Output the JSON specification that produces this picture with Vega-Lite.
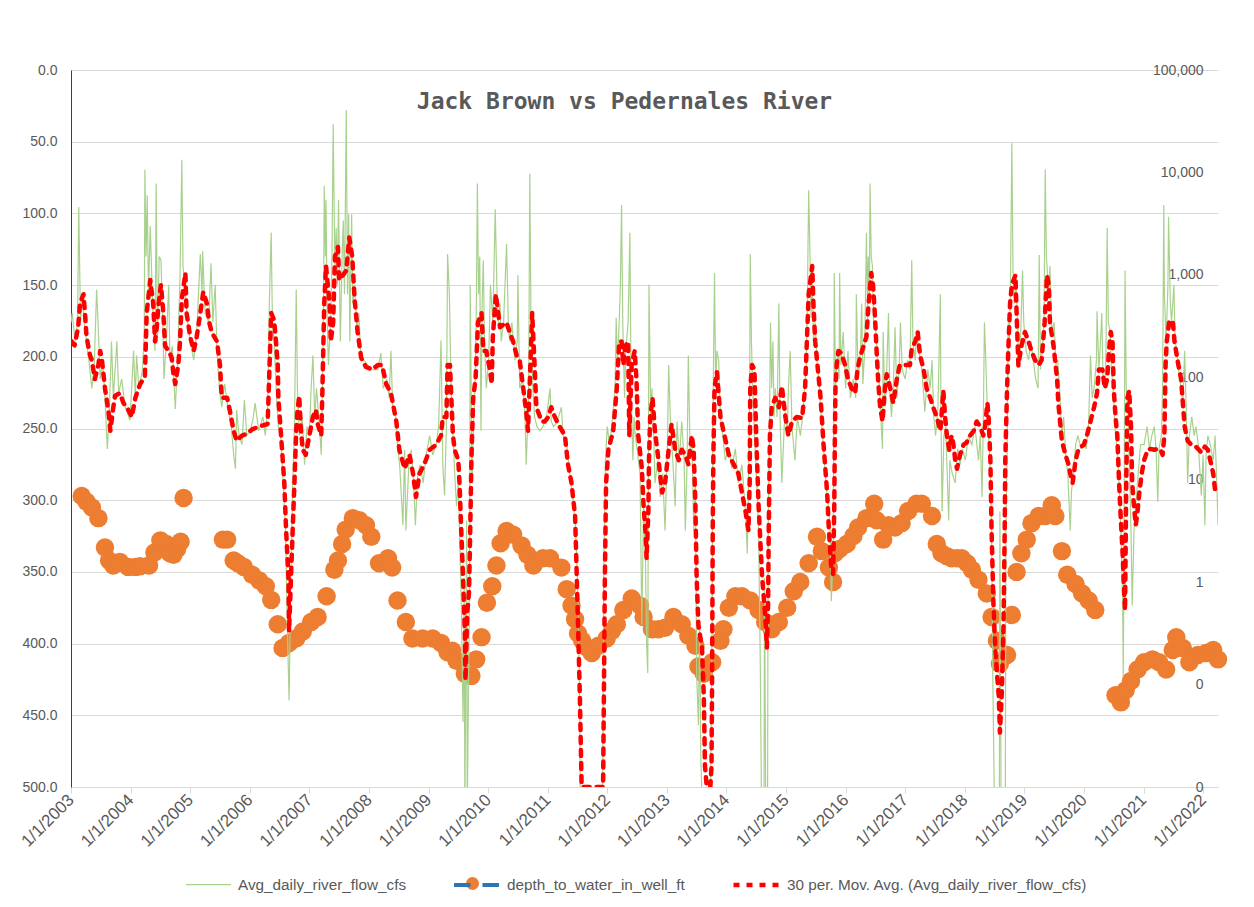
{
"$schema":"https://vega.github.io/schema/vega-lite/v6.json",
"width":1147,"height":717,
"autosize":"none",
"padding":{"left":71,"top":70,"right":36,"bottom":120},
"background":"white",
"config":{"view":{"stroke":null},"axis":{"labelFont":"Liberation Sans","labelFontSize":14,"labelColor":"#595959"},
"legend":{"labelFont":"Liberation Sans","labelColor":"#595959","padding":0}},
"title":{"text":"Jack Brown vs Pedernales River","font":"DejaVu Sans Mono","fontSize":23,"fontWeight":"bold","color":"#595959","anchor":"middle","frame":"group","baseline":"middle","offset":-31,"dy":31,"dx":-20},
"datasets":{
"flow":[
{"year":2003.00,"cfs":343},{"year":2003.02,"cfs":424},{"year":2003.07,"cfs":224},{"year":2003.11,"cfs":343},{"year":2003.13,"cfs":4600},{"year":2003.16,"cfs":343},{"year":2003.19,"cfs":647},{"year":2003.22,"cfs":343},{"year":2003.26,"cfs":224},{"year":2003.30,"cfs":147},{"year":2003.35,"cfs":78},{"year":2003.39,"cfs":132},{"year":2003.43,"cfs":720},{"year":2003.46,"cfs":277},{"year":2003.49,"cfs":96},{"year":2003.53,"cfs":147},{"year":2003.57,"cfs":63},{"year":2003.61,"cfs":20},{"year":2003.64,"cfs":41},{"year":2003.68,"cfs":224},{"year":2003.71,"cfs":63},{"year":2003.77,"cfs":224},{"year":2003.80,"cfs":70},{"year":2003.85,"cfs":96},{"year":2003.91,"cfs":51},{"year":2003.99,"cfs":38},
{"year":2004.05,"cfs":181},{"year":2004.08,"cfs":63},{"year":2004.10,"cfs":163},{"year":2004.14,"cfs":78},{"year":2004.20,"cfs":119},{"year":2004.23,"cfs":277},{"year":2004.24,"cfs":10700},{"year":2004.26,"cfs":1510},{"year":2004.28,"cfs":6000},{"year":2004.30,"cfs":647},{"year":2004.33,"cfs":2980},{"year":2004.36,"cfs":800},{"year":2004.38,"cfs":343},{"year":2004.41,"cfs":181},{"year":2004.43,"cfs":7800},{"year":2004.45,"cfs":224},{"year":2004.48,"cfs":1510},{"year":2004.51,"cfs":1390},{"year":2004.54,"cfs":343},{"year":2004.56,"cfs":96},{"year":2004.60,"cfs":224},{"year":2004.64,"cfs":800},{"year":2004.66,"cfs":147},{"year":2004.70,"cfs":201},{"year":2004.75,"cfs":49},{"year":2004.79,"cfs":147},{"year":2004.83,"cfs":990},{"year":2004.86,"cfs":13300},{"year":2004.88,"cfs":1220},{"year":2004.92,"cfs":647},{"year":2004.96,"cfs":343},
{"year":2005.00,"cfs":224},{"year":2005.06,"cfs":147},{"year":2005.11,"cfs":277},{"year":2005.17,"cfs":1600},{"year":2005.20,"cfs":647},{"year":2005.21,"cfs":1700},{"year":2005.25,"cfs":424},{"year":2005.31,"cfs":343},{"year":2005.35,"cfs":1300},{"year":2005.38,"cfs":343},{"year":2005.42,"cfs":800},{"year":2005.45,"cfs":181},{"year":2005.49,"cfs":78},{"year":2005.53,"cfs":51},{"year":2005.58,"cfs":86},{"year":2005.63,"cfs":51},{"year":2005.69,"cfs":33},{"year":2005.73,"cfs":17.5},{"year":2005.76,"cfs":12.8},{"year":2005.78,"cfs":48},{"year":2005.82,"cfs":27},{"year":2005.87,"cfs":22},{"year":2005.91,"cfs":60},{"year":2005.95,"cfs":27},
{"year":2006.01,"cfs":30},{"year":2006.06,"cfs":41},{"year":2006.09,"cfs":56},{"year":2006.15,"cfs":30},{"year":2006.22,"cfs":41},{"year":2006.26,"cfs":27},{"year":2006.30,"cfs":51},{"year":2006.33,"cfs":582},{"year":2006.36,"cfs":2590},{"year":2006.38,"cfs":343},{"year":2006.41,"cfs":224},{"year":2006.45,"cfs":63},{"year":2006.48,"cfs":33},{"year":2006.52,"cfs":27},{"year":2006.56,"cfs":9.3},{"year":2006.60,"cfs":3.2},{"year":2006.63,"cfs":0.38},{"year":2006.66,"cfs":0.07},{"year":2006.69,"cfs":1.1},{"year":2006.72,"cfs":9.3},{"year":2006.75,"cfs":33},{"year":2006.78,"cfs":720},{"year":2006.80,"cfs":78},{"year":2006.83,"cfs":27},{"year":2006.88,"cfs":41},{"year":2006.92,"cfs":14},{"year":2006.96,"cfs":33},
{"year":2007.00,"cfs":27},{"year":2007.03,"cfs":78},{"year":2007.06,"cfs":163},{"year":2007.09,"cfs":41},{"year":2007.12,"cfs":78},{"year":2007.17,"cfs":33},{"year":2007.20,"cfs":17.5},{"year":2007.22,"cfs":78},{"year":2007.24,"cfs":647},{"year":2007.25,"cfs":7400},{"year":2007.27,"cfs":1510},{"year":2007.28,"cfs":5400},{"year":2007.30,"cfs":343},{"year":2007.32,"cfs":132},{"year":2007.36,"cfs":381},{"year":2007.38,"cfs":1510},{"year":2007.40,"cfs":29500},{"year":2007.43,"cfs":990},{"year":2007.45,"cfs":2860},{"year":2007.47,"cfs":800},{"year":2007.49,"cfs":5400},{"year":2007.52,"cfs":224},{"year":2007.55,"cfs":1510},{"year":2007.57,"cfs":3400},{"year":2007.59,"cfs":647},{"year":2007.62,"cfs":40600},{"year":2007.64,"cfs":647},{"year":2007.66,"cfs":3900},{"year":2007.68,"cfs":224},{"year":2007.71,"cfs":3900},{"year":2007.73,"cfs":524},{"year":2007.76,"cfs":800},{"year":2007.80,"cfs":277},{"year":2007.83,"cfs":424},{"year":2007.86,"cfs":181},{"year":2007.91,"cfs":147},{"year":2007.98,"cfs":132},
{"year":2008.06,"cfs":119},{"year":2008.15,"cfs":119},{"year":2008.20,"cfs":172},{"year":2008.24,"cfs":78},{"year":2008.30,"cfs":96},{"year":2008.34,"cfs":63},{"year":2008.37,"cfs":181},{"year":2008.40,"cfs":48},{"year":2008.45,"cfs":41},{"year":2008.48,"cfs":22},{"year":2008.52,"cfs":12.8},{"year":2008.57,"cfs":3.6},{"year":2008.60,"cfs":19.6},{"year":2008.62,"cfs":3.2},{"year":2008.67,"cfs":14},{"year":2008.71,"cfs":19.6},{"year":2008.75,"cfs":9.3},{"year":2008.78,"cfs":3.6},{"year":2008.82,"cfs":11.5},{"year":2008.86,"cfs":14},{"year":2008.91,"cfs":9.3},{"year":2008.96,"cfs":17.5},
{"year":2009.02,"cfs":27},{"year":2009.07,"cfs":17.5},{"year":2009.13,"cfs":22},{"year":2009.17,"cfs":33},{"year":2009.21,"cfs":230},{"year":2009.24,"cfs":14},{"year":2009.27,"cfs":7},{"year":2009.30,"cfs":33},{"year":2009.32,"cfs":1600},{"year":2009.35,"cfs":647},{"year":2009.38,"cfs":78},{"year":2009.41,"cfs":27},{"year":2009.44,"cfs":11.5},{"year":2009.47,"cfs":5.5},{"year":2009.50,"cfs":9.3},{"year":2009.52,"cfs":3.2},{"year":2009.55,"cfs":0.65},{"year":2009.58,"cfs":0.043},{"year":2009.60,"cfs":1.1},{"year":2009.61,"cfs":0.005},{"year":2009.64,"cfs":4},{"year":2009.65,"cfs":0.005},{"year":2009.67,"cfs":0.078},{"year":2009.69,"cfs":1.1},{"year":2009.70,"cfs":800},{"year":2009.73,"cfs":9.3},{"year":2009.75,"cfs":27},{"year":2009.78,"cfs":78},{"year":2009.80,"cfs":343},{"year":2009.82,"cfs":7800},{"year":2009.84,"cfs":647},{"year":2009.86,"cfs":1510},{"year":2009.88,"cfs":30},{"year":2009.90,"cfs":524},{"year":2009.92,"cfs":1390},{"year":2009.94,"cfs":224},{"year":2009.97,"cfs":78},
{"year":2010.01,"cfs":147},{"year":2010.04,"cfs":800},{"year":2010.08,"cfs":343},{"year":2010.12,"cfs":4370},{"year":2010.15,"cfs":647},{"year":2010.17,"cfs":343},{"year":2010.20,"cfs":524},{"year":2010.22,"cfs":224},{"year":2010.26,"cfs":343},{"year":2010.31,"cfs":2000},{"year":2010.34,"cfs":343},{"year":2010.36,"cfs":224},{"year":2010.40,"cfs":343},{"year":2010.45,"cfs":147},{"year":2010.49,"cfs":224},{"year":2010.50,"cfs":990},{"year":2010.53,"cfs":78},{"year":2010.58,"cfs":96},{"year":2010.62,"cfs":41},{"year":2010.64,"cfs":14},{"year":2010.68,"cfs":63},{"year":2010.70,"cfs":9700},{"year":2010.72,"cfs":343},{"year":2010.75,"cfs":78},{"year":2010.78,"cfs":41},{"year":2010.82,"cfs":33},{"year":2010.87,"cfs":30},{"year":2010.92,"cfs":33},{"year":2010.98,"cfs":41},
{"year":2011.04,"cfs":78},{"year":2011.06,"cfs":37},{"year":2011.10,"cfs":33},{"year":2011.16,"cfs":37},{"year":2011.23,"cfs":51},{"year":2011.26,"cfs":27},{"year":2011.32,"cfs":22},{"year":2011.37,"cfs":11.5},{"year":2011.43,"cfs":6.1},{"year":2011.47,"cfs":3.2},{"year":2011.50,"cfs":1.1},{"year":2011.53,"cfs":0.13},{"year":2011.55,"cfs":0.005},{"year":2011.92,"cfs":0.005},{"year":2011.94,"cfs":1.1},{"year":2011.97,"cfs":15.5},
{"year":2012.00,"cfs":33},{"year":2012.04,"cfs":22},{"year":2012.09,"cfs":41},{"year":2012.13,"cfs":78},{"year":2012.15,"cfs":381},{"year":2012.17,"cfs":132},{"year":2012.20,"cfs":343},{"year":2012.22,"cfs":800},{"year":2012.24,"cfs":4800},{"year":2012.26,"cfs":343},{"year":2012.29,"cfs":63},{"year":2012.31,"cfs":181},{"year":2012.35,"cfs":343},{"year":2012.38,"cfs":2580},{"year":2012.40,"cfs":78},{"year":2012.43,"cfs":15.5},{"year":2012.45,"cfs":41},{"year":2012.47,"cfs":27},{"year":2012.50,"cfs":20},{"year":2012.55,"cfs":11.5},{"year":2012.58,"cfs":0.38},{"year":2012.61,"cfs":5.5},{"year":2012.64,"cfs":1.9},{"year":2012.66,"cfs":0.25},{"year":2012.68,"cfs":0.13},{"year":2012.69,"cfs":9.3},{"year":2012.70,"cfs":800},{"year":2012.73,"cfs":41},{"year":2012.75,"cfs":78},{"year":2012.78,"cfs":27},{"year":2012.80,"cfs":9.3},{"year":2012.85,"cfs":15.5},{"year":2012.89,"cfs":6.8},{"year":2012.93,"cfs":11.5},{"year":2012.97,"cfs":3.2},
{"year":2013.01,"cfs":22},{"year":2013.03,"cfs":132},{"year":2013.06,"cfs":37},{"year":2013.10,"cfs":15.5},{"year":2013.14,"cfs":5.5},{"year":2013.17,"cfs":37},{"year":2013.21,"cfs":15.5},{"year":2013.25,"cfs":37},{"year":2013.29,"cfs":15.5},{"year":2013.31,"cfs":3.2},{"year":2013.34,"cfs":15.5},{"year":2013.36,"cfs":163},{"year":2013.39,"cfs":20},{"year":2013.42,"cfs":27},{"year":2013.45,"cfs":3.2},{"year":2013.48,"cfs":9.3},{"year":2013.50,"cfs":0.13},{"year":2013.53,"cfs":0.04},{"year":2013.55,"cfs":0.38},{"year":2013.57,"cfs":0.02},{"year":2013.60,"cfs":0.005},{"year":2013.73,"cfs":0.005},{"year":2013.76,"cfs":0.38},{"year":2013.77,"cfs":27},{"year":2013.80,"cfs":1040},{"year":2013.82,"cfs":78},{"year":2013.84,"cfs":181},{"year":2013.87,"cfs":147},{"year":2013.90,"cfs":41},{"year":2013.94,"cfs":27},{"year":2013.98,"cfs":15.5},
{"year":2014.04,"cfs":20},{"year":2014.09,"cfs":13},{"year":2014.15,"cfs":20},{"year":2014.20,"cfs":9.3},{"year":2014.26,"cfs":14},{"year":2014.32,"cfs":4.9},{"year":2014.35,"cfs":1.9},{"year":2014.37,"cfs":9.3},{"year":2014.39,"cfs":78},{"year":2014.40,"cfs":1600},{"year":2014.42,"cfs":224},{"year":2014.44,"cfs":78},{"year":2014.47,"cfs":27},{"year":2014.51,"cfs":9.3},{"year":2014.54,"cfs":3.2},{"year":2014.57,"cfs":0.13},{"year":2014.59,"cfs":0.005},{"year":2014.63,"cfs":0.005},{"year":2014.64,"cfs":1.1},{"year":2014.66,"cfs":0.005},{"year":2014.69,"cfs":0.005},{"year":2014.70,"cfs":3.2},{"year":2014.72,"cfs":27},{"year":2014.74,"cfs":343},{"year":2014.76,"cfs":78},{"year":2014.78,"cfs":224},{"year":2014.80,"cfs":41},{"year":2014.82,"cfs":78},{"year":2014.85,"cfs":41},{"year":2014.88,"cfs":524},{"year":2014.90,"cfs":41},{"year":2014.93,"cfs":9.3},{"year":2014.97,"cfs":33},{"year":2014.99,"cfs":46},
{"year":2015.02,"cfs":27},{"year":2015.04,"cfs":78},{"year":2015.07,"cfs":181},{"year":2015.10,"cfs":33},{"year":2015.15,"cfs":15.5},{"year":2015.19,"cfs":41},{"year":2015.24,"cfs":27},{"year":2015.28,"cfs":41},{"year":2015.31,"cfs":78},{"year":2015.34,"cfs":132},{"year":2015.36,"cfs":647},{"year":2015.38,"cfs":6700},{"year":2015.40,"cfs":1870},{"year":2015.42,"cfs":381},{"year":2015.44,"cfs":890},{"year":2015.46,"cfs":224},{"year":2015.49,"cfs":343},{"year":2015.52,"cfs":147},{"year":2015.56,"cfs":78},{"year":2015.59,"cfs":41},{"year":2015.63,"cfs":20},{"year":2015.67,"cfs":9.3},{"year":2015.72,"cfs":4.9},{"year":2015.74,"cfs":3.2},{"year":2015.76,"cfs":0.65},{"year":2015.79,"cfs":1.9},{"year":2015.80,"cfs":27},{"year":2015.81,"cfs":1040},{"year":2015.83,"cfs":78},{"year":2015.87,"cfs":181},{"year":2015.89,"cfs":96},{"year":2015.90,"cfs":1040},{"year":2015.92,"cfs":132},{"year":2015.96,"cfs":277},
{"year":2016.00,"cfs":78},{"year":2016.04,"cfs":181},{"year":2016.08,"cfs":63},{"year":2016.13,"cfs":96},{"year":2016.17,"cfs":63},{"year":2016.18,"cfs":647},{"year":2016.21,"cfs":96},{"year":2016.25,"cfs":181},{"year":2016.27,"cfs":524},{"year":2016.29,"cfs":86},{"year":2016.32,"cfs":181},{"year":2016.35,"cfs":2580},{"year":2016.37,"cfs":343},{"year":2016.38,"cfs":1510},{"year":2016.40,"cfs":647},{"year":2016.41,"cfs":7800},{"year":2016.43,"cfs":1510},{"year":2016.45,"cfs":1220},{"year":2016.47,"cfs":343},{"year":2016.50,"cfs":343},{"year":2016.54,"cfs":147},{"year":2016.57,"cfs":78},{"year":2016.59,"cfs":41},{"year":2016.62,"cfs":20},{"year":2016.63,"cfs":277},{"year":2016.66,"cfs":51},{"year":2016.68,"cfs":78},{"year":2016.72,"cfs":424},{"year":2016.74,"cfs":78},{"year":2016.77,"cfs":41},{"year":2016.80,"cfs":78},{"year":2016.83,"cfs":308},{"year":2016.86,"cfs":63},{"year":2016.90,"cfs":119},{"year":2016.92,"cfs":343},{"year":2016.95,"cfs":119},
{"year":2017.00,"cfs":96},{"year":2017.04,"cfs":147},{"year":2017.08,"cfs":119},{"year":2017.11,"cfs":1390},{"year":2017.13,"cfs":224},{"year":2017.17,"cfs":147},{"year":2017.19,"cfs":277},{"year":2017.23,"cfs":181},{"year":2017.28,"cfs":119},{"year":2017.33,"cfs":46},{"year":2017.38,"cfs":119},{"year":2017.42,"cfs":78},{"year":2017.45,"cfs":147},{"year":2017.48,"cfs":41},{"year":2017.51,"cfs":27},{"year":2017.55,"cfs":51},{"year":2017.59,"cfs":647},{"year":2017.60,"cfs":46},{"year":2017.62,"cfs":4.9},{"year":2017.65,"cfs":27},{"year":2017.68,"cfs":33},{"year":2017.71,"cfs":9.3},{"year":2017.73,"cfs":4},{"year":2017.75,"cfs":15.5},{"year":2017.79,"cfs":11.5},{"year":2017.84,"cfs":9.3},{"year":2017.88,"cfs":20},{"year":2017.92,"cfs":14},{"year":2017.96,"cfs":20},
{"year":2018.01,"cfs":15.5},{"year":2018.06,"cfs":27},{"year":2018.12,"cfs":22},{"year":2018.17,"cfs":33},{"year":2018.23,"cfs":15.5},{"year":2018.26,"cfs":27},{"year":2018.29,"cfs":6.8},{"year":2018.31,"cfs":33},{"year":2018.33,"cfs":343},{"year":2018.35,"cfs":163},{"year":2018.38,"cfs":46},{"year":2018.40,"cfs":27},{"year":2018.43,"cfs":11.5},{"year":2018.45,"cfs":3.2},{"year":2018.47,"cfs":0.13},{"year":2018.50,"cfs":0.005},{"year":2018.58,"cfs":0.005},{"year":2018.59,"cfs":4.9},{"year":2018.61,"cfs":0.005},{"year":2018.68,"cfs":0.005},{"year":2018.69,"cfs":3.2},{"year":2018.71,"cfs":15.5},{"year":2018.73,"cfs":343},{"year":2018.75,"cfs":224},{"year":2018.77,"cfs":1100},{"year":2018.79,"cfs":19300},{"year":2018.81,"cfs":1100},{"year":2018.83,"cfs":524},{"year":2018.86,"cfs":800},{"year":2018.89,"cfs":343},{"year":2018.90,"cfs":132},{"year":2018.93,"cfs":181},{"year":2018.97,"cfs":1100},{"year":2018.99,"cfs":343},
{"year":2019.03,"cfs":181},{"year":2019.07,"cfs":147},{"year":2019.11,"cfs":224},{"year":2019.15,"cfs":147},{"year":2019.19,"cfs":96},{"year":2019.23,"cfs":78},{"year":2019.25,"cfs":1560},{"year":2019.27,"cfs":119},{"year":2019.30,"cfs":181},{"year":2019.33,"cfs":343},{"year":2019.35,"cfs":10700},{"year":2019.37,"cfs":1510},{"year":2019.38,"cfs":1220},{"year":2019.41,"cfs":647},{"year":2019.43,"cfs":1220},{"year":2019.46,"cfs":277},{"year":2019.50,"cfs":343},{"year":2019.53,"cfs":132},{"year":2019.56,"cfs":147},{"year":2019.60,"cfs":63},{"year":2019.63,"cfs":27},{"year":2019.66,"cfs":41},{"year":2019.70,"cfs":15.5},{"year":2019.73,"cfs":11.5},{"year":2019.77,"cfs":3.2},{"year":2019.79,"cfs":7.5},{"year":2019.82,"cfs":11.5},{"year":2019.86,"cfs":22},{"year":2019.90,"cfs":27},{"year":2019.95,"cfs":20},{"year":2019.99,"cfs":24},
{"year":2020.04,"cfs":20},{"year":2020.08,"cfs":37},{"year":2020.11,"cfs":163},{"year":2020.14,"cfs":63},{"year":2020.17,"cfs":78},{"year":2020.21,"cfs":147},{"year":2020.22,"cfs":440},{"year":2020.25,"cfs":119},{"year":2020.27,"cfs":181},{"year":2020.30,"cfs":424},{"year":2020.32,"cfs":96},{"year":2020.35,"cfs":78},{"year":2020.37,"cfs":181},{"year":2020.39,"cfs":2860},{"year":2020.41,"cfs":343},{"year":2020.44,"cfs":277},{"year":2020.46,"cfs":119},{"year":2020.49,"cfs":78},{"year":2020.52,"cfs":33},{"year":2020.55,"cfs":22},{"year":2020.59,"cfs":9.3},{"year":2020.62,"cfs":3.2},{"year":2020.65,"cfs":0.65},{"year":2020.66,"cfs":0.12},{"year":2020.67,"cfs":1.1},{"year":2020.69,"cfs":1100},{"year":2020.71,"cfs":78},{"year":2020.74,"cfs":41},{"year":2020.77,"cfs":9.3},{"year":2020.79,"cfs":3.2},{"year":2020.81,"cfs":0.59},{"year":2020.84,"cfs":3.2},{"year":2020.87,"cfs":5.5},{"year":2020.91,"cfs":11.5},{"year":2020.95,"cfs":22},
{"year":2021.01,"cfs":22},{"year":2021.06,"cfs":33},{"year":2021.10,"cfs":20},{"year":2021.14,"cfs":27},{"year":2021.18,"cfs":33},{"year":2021.21,"cfs":20},{"year":2021.24,"cfs":6.1},{"year":2021.26,"cfs":20},{"year":2021.30,"cfs":27},{"year":2021.32,"cfs":78},{"year":2021.34,"cfs":4800},{"year":2021.35,"cfs":647},{"year":2021.38,"cfs":224},{"year":2021.41,"cfs":800},{"year":2021.42,"cfs":3700},{"year":2021.45,"cfs":524},{"year":2021.47,"cfs":343},{"year":2021.51,"cfs":800},{"year":2021.53,"cfs":224},{"year":2021.56,"cfs":181},{"year":2021.59,"cfs":119},{"year":2021.63,"cfs":78},{"year":2021.66,"cfs":56},{"year":2021.69,"cfs":181},{"year":2021.72,"cfs":41},{"year":2021.74,"cfs":9.3},{"year":2021.77,"cfs":27},{"year":2021.81,"cfs":41},{"year":2021.85,"cfs":27},{"year":2021.88,"cfs":33},{"year":2021.92,"cfs":22},{"year":2021.97,"cfs":7},
{"year":2022.00,"cfs":17.5},{"year":2022.03,"cfs":3.6},{"year":2022.05,"cfs":17.5},{"year":2022.08,"cfs":27},{"year":2022.12,"cfs":22},{"year":2022.17,"cfs":15.5},{"year":2022.20,"cfs":27},{"year":2022.23,"cfs":9.3},{"year":2022.25,"cfs":3.6}
],
"ma":[
{"year":2003.01,"cfs":224},{"year":2003.06,"cfs":205},{"year":2003.12,"cfs":308},{"year":2003.15,"cfs":524},{"year":2003.21,"cfs":647},{"year":2003.24,"cfs":381},{"year":2003.26,"cfs":249},{"year":2003.32,"cfs":163},{"year":2003.35,"cfs":147},{"year":2003.40,"cfs":96},{"year":2003.46,"cfs":132},{"year":2003.49,"cfs":181},{"year":2003.52,"cfs":147},{"year":2003.57,"cfs":78},{"year":2003.63,"cfs":46},{"year":2003.66,"cfs":30},{"year":2003.71,"cfs":51},{"year":2003.74,"cfs":66},{"year":2003.82,"cfs":70},{"year":2003.88,"cfs":56},{"year":2003.94,"cfs":51},
{"year":2004.02,"cfs":41},{"year":2004.08,"cfs":63},{"year":2004.16,"cfs":86},{"year":2004.24,"cfs":101},{"year":2004.27,"cfs":424},{"year":2004.33,"cfs":890},{"year":2004.38,"cfs":524},{"year":2004.41,"cfs":224},{"year":2004.44,"cfs":308},{"year":2004.47,"cfs":524},{"year":2004.51,"cfs":800},{"year":2004.55,"cfs":424},{"year":2004.58,"cfs":201},{"year":2004.64,"cfs":181},{"year":2004.69,"cfs":155},{"year":2004.72,"cfs":107},{"year":2004.75,"cfs":86},{"year":2004.80,"cfs":132},{"year":2004.83,"cfs":224},{"year":2004.86,"cfs":582},{"year":2004.92,"cfs":1043},{"year":2004.94,"cfs":424},
{"year":2005.00,"cfs":249},{"year":2005.06,"cfs":181},{"year":2005.11,"cfs":249},{"year":2005.17,"cfs":424},{"year":2005.22,"cfs":682},{"year":2005.28,"cfs":524},{"year":2005.32,"cfs":343},{"year":2005.36,"cfs":277},{"year":2005.45,"cfs":224},{"year":2005.50,"cfs":132},{"year":2005.53,"cfs":63},{"year":2005.62,"cfs":63},{"year":2005.67,"cfs":46},{"year":2005.73,"cfs":30},{"year":2005.78,"cfs":24},{"year":2005.87,"cfs":27},{"year":2005.95,"cfs":28},
{"year":2006.04,"cfs":31},{"year":2006.15,"cfs":33},{"year":2006.30,"cfs":35},{"year":2006.33,"cfs":119},{"year":2006.36,"cfs":424},{"year":2006.41,"cfs":360},{"year":2006.44,"cfs":224},{"year":2006.47,"cfs":132},{"year":2006.48,"cfs":63},{"year":2006.52,"cfs":30},{"year":2006.58,"cfs":9.3},{"year":2006.61,"cfs":3.2},{"year":2006.65,"cfs":1.1},{"year":2006.66,"cfs":0.33},{"year":2006.72,"cfs":3.2},{"year":2006.75,"cfs":9.3},{"year":2006.78,"cfs":30},{"year":2006.80,"cfs":46},{"year":2006.83,"cfs":66},{"year":2006.86,"cfs":30},{"year":2006.89,"cfs":19.6},{"year":2006.94,"cfs":17.5},
{"year":2007.00,"cfs":27},{"year":2007.06,"cfs":41},{"year":2007.11,"cfs":48},{"year":2007.14,"cfs":35},{"year":2007.20,"cfs":27},{"year":2007.22,"cfs":78},{"year":2007.25,"cfs":524},{"year":2007.28,"cfs":1220},{"year":2007.34,"cfs":524},{"year":2007.36,"cfs":224},{"year":2007.40,"cfs":343},{"year":2007.43,"cfs":1510},{"year":2007.48,"cfs":1870},{"year":2007.50,"cfs":890},{"year":2007.56,"cfs":990},{"year":2007.62,"cfs":1100},{"year":2007.67,"cfs":2310},{"year":2007.72,"cfs":1510},{"year":2007.76,"cfs":580},{"year":2007.81,"cfs":277},{"year":2007.87,"cfs":155},{"year":2007.95,"cfs":126},
{"year":2008.06,"cfs":119},{"year":2008.15,"cfs":132},{"year":2008.22,"cfs":132},{"year":2008.29,"cfs":86},{"year":2008.37,"cfs":70},{"year":2008.46,"cfs":37},{"year":2008.51,"cfs":19.6},{"year":2008.60,"cfs":12.8},{"year":2008.68,"cfs":17.5},{"year":2008.74,"cfs":11.5},{"year":2008.79,"cfs":6.8},{"year":2008.85,"cfs":11.5},{"year":2008.93,"cfs":14.2},
{"year":2009.02,"cfs":19.6},{"year":2009.13,"cfs":22},{"year":2009.21,"cfs":27},{"year":2009.24,"cfs":41},{"year":2009.30,"cfs":41},{"year":2009.32,"cfs":132},{"year":2009.36,"cfs":132},{"year":2009.41,"cfs":27},{"year":2009.44,"cfs":19.6},{"year":2009.50,"cfs":15.5},{"year":2009.52,"cfs":9.3},{"year":2009.55,"cfs":3.2},{"year":2009.58,"cfs":1.1},{"year":2009.61,"cfs":0.33},{"year":2009.62,"cfs":0.11},{"year":2009.65,"cfs":0.5},{"year":2009.68,"cfs":0.8},{"year":2009.70,"cfs":3.2},{"year":2009.72,"cfs":15.5},{"year":2009.75,"cfs":63},{"year":2009.79,"cfs":96},{"year":2009.83,"cfs":343},{"year":2009.89,"cfs":424},{"year":2009.92,"cfs":181},{"year":2009.97,"cfs":181},
{"year":2010.03,"cfs":119},{"year":2010.06,"cfs":86},{"year":2010.08,"cfs":249},{"year":2010.13,"cfs":647},{"year":2010.17,"cfs":424},{"year":2010.20,"cfs":308},{"year":2010.25,"cfs":325},{"year":2010.31,"cfs":343},{"year":2010.36,"cfs":277},{"year":2010.42,"cfs":224},{"year":2010.48,"cfs":163},{"year":2010.53,"cfs":147},{"year":2010.59,"cfs":78},{"year":2010.64,"cfs":46},{"year":2010.67,"cfs":30},{"year":2010.71,"cfs":132},{"year":2010.74,"cfs":424},{"year":2010.78,"cfs":132},{"year":2010.81,"cfs":51},{"year":2010.90,"cfs":37},{"year":2010.95,"cfs":37},
{"year":2011.01,"cfs":41},{"year":2011.06,"cfs":51},{"year":2011.12,"cfs":41},{"year":2011.20,"cfs":33},{"year":2011.29,"cfs":27},{"year":2011.34,"cfs":14.2},{"year":2011.40,"cfs":9.3},{"year":2011.46,"cfs":4.4},{"year":2011.48,"cfs":1.7},{"year":2011.51,"cfs":0.38},{"year":2011.54,"cfs":0.078},{"year":2011.57,"cfs":0.01},{"year":2011.93,"cfs":0.01},{"year":2011.94,"cfs":0.046},{"year":2011.96,"cfs":1.1},{"year":2011.98,"cfs":9.3},
{"year":2012.02,"cfs":20},{"year":2012.04,"cfs":22},{"year":2012.10,"cfs":30},{"year":2012.16,"cfs":78},{"year":2012.20,"cfs":224},{"year":2012.24,"cfs":224},{"year":2012.27,"cfs":132},{"year":2012.30,"cfs":200},{"year":2012.35,"cfs":224},{"year":2012.37,"cfs":27},{"year":2012.41,"cfs":132},{"year":2012.46,"cfs":181},{"year":2012.49,"cfs":96},{"year":2012.52,"cfs":27},{"year":2012.58,"cfs":13},{"year":2012.61,"cfs":5.5},{"year":2012.64,"cfs":3.2},{"year":2012.66,"cfs":1.7},{"year":2012.69,"cfs":4.9},{"year":2012.70,"cfs":15.5},{"year":2012.72,"cfs":41},{"year":2012.76,"cfs":63},{"year":2012.80,"cfs":30},{"year":2012.86,"cfs":15.5},{"year":2012.92,"cfs":7.5},{"year":2012.97,"cfs":9.3},
{"year":2013.03,"cfs":19.6},{"year":2013.08,"cfs":35},{"year":2013.14,"cfs":19.6},{"year":2013.20,"cfs":15.5},{"year":2013.25,"cfs":19.6},{"year":2013.31,"cfs":17.5},{"year":2013.36,"cfs":14.2},{"year":2013.42,"cfs":27},{"year":2013.45,"cfs":19.6},{"year":2013.48,"cfs":5.5},{"year":2013.50,"cfs":1.1},{"year":2013.53,"cfs":0.38},{"year":2013.59,"cfs":0.23},{"year":2013.62,"cfs":0.078},{"year":2013.64,"cfs":0.016},{"year":2013.67,"cfs":0.01},{"year":2013.73,"cfs":0.01},{"year":2013.75,"cfs":0.016},{"year":2013.76,"cfs":0.13},{"year":2013.77,"cfs":3.2},{"year":2013.78,"cfs":15.5},{"year":2013.80,"cfs":78},{"year":2013.84,"cfs":113},{"year":2013.90,"cfs":41},{"year":2013.95,"cfs":30},
{"year":2014.04,"cfs":17.5},{"year":2014.12,"cfs":14.2},{"year":2014.20,"cfs":11.5},{"year":2014.26,"cfs":7.5},{"year":2014.32,"cfs":4.9},{"year":2014.37,"cfs":3.2},{"year":2014.39,"cfs":9.3},{"year":2014.40,"cfs":78},{"year":2014.43,"cfs":132},{"year":2014.47,"cfs":119},{"year":2014.50,"cfs":27},{"year":2014.54,"cfs":5.5},{"year":2014.60,"cfs":1.1},{"year":2014.65,"cfs":0.48},{"year":2014.68,"cfs":0.23},{"year":2014.70,"cfs":0.65},{"year":2014.71,"cfs":3.2},{"year":2014.73,"cfs":27},{"year":2014.76,"cfs":51},{"year":2014.82,"cfs":63},{"year":2014.88,"cfs":51},{"year":2014.93,"cfs":82},{"year":2014.99,"cfs":41},
{"year":2015.04,"cfs":27},{"year":2015.10,"cfs":37},{"year":2015.18,"cfs":41},{"year":2015.27,"cfs":40},{"year":2015.32,"cfs":78},{"year":2015.38,"cfs":647},{"year":2015.44,"cfs":1220},{"year":2015.46,"cfs":524},{"year":2015.49,"cfs":224},{"year":2015.52,"cfs":147},{"year":2015.58,"cfs":63},{"year":2015.63,"cfs":22},{"year":2015.69,"cfs":7.5},{"year":2015.72,"cfs":3.2},{"year":2015.76,"cfs":1.37},{"year":2015.79,"cfs":1.2},{"year":2015.81,"cfs":5.5},{"year":2015.82,"cfs":27},{"year":2015.83,"cfs":78},{"year":2015.85,"cfs":132},{"year":2015.88,"cfs":181},{"year":2015.93,"cfs":172},{"year":2015.99,"cfs":132},
{"year":2016.04,"cfs":96},{"year":2016.10,"cfs":78},{"year":2016.16,"cfs":70},{"year":2016.20,"cfs":119},{"year":2016.24,"cfs":155},{"year":2016.30,"cfs":201},{"year":2016.35,"cfs":249},{"year":2016.38,"cfs":470},{"year":2016.43,"cfs":1040},{"year":2016.46,"cfs":800},{"year":2016.49,"cfs":424},{"year":2016.52,"cfs":181},{"year":2016.55,"cfs":86},{"year":2016.58,"cfs":51},{"year":2016.62,"cfs":37},{"year":2016.66,"cfs":78},{"year":2016.69,"cfs":107},{"year":2016.75,"cfs":78},{"year":2016.80,"cfs":56},{"year":2016.86,"cfs":96},{"year":2016.91,"cfs":132},
{"year":2017.00,"cfs":132},{"year":2017.08,"cfs":132},{"year":2017.11,"cfs":190},{"year":2017.17,"cfs":224},{"year":2017.21,"cfs":277},{"year":2017.25,"cfs":163},{"year":2017.31,"cfs":119},{"year":2017.36,"cfs":78},{"year":2017.42,"cfs":63},{"year":2017.47,"cfs":51},{"year":2017.53,"cfs":41},{"year":2017.59,"cfs":30},{"year":2017.62,"cfs":51},{"year":2017.64,"cfs":74},{"year":2017.67,"cfs":41},{"year":2017.70,"cfs":27},{"year":2017.74,"cfs":19.6},{"year":2017.78,"cfs":27},{"year":2017.81,"cfs":22},{"year":2017.84,"cfs":15.5},{"year":2017.87,"cfs":12.8},{"year":2017.92,"cfs":17.5},{"year":2017.98,"cfs":22},
{"year":2018.03,"cfs":23},{"year":2018.09,"cfs":27},{"year":2018.15,"cfs":30},{"year":2018.20,"cfs":37},{"year":2018.26,"cfs":33},{"year":2018.31,"cfs":27},{"year":2018.34,"cfs":33},{"year":2018.38,"cfs":56},{"year":2018.40,"cfs":41},{"year":2018.43,"cfs":15.5},{"year":2018.45,"cfs":3.2},{"year":2018.48,"cfs":0.65},{"year":2018.51,"cfs":0.23},{"year":2018.54,"cfs":0.13},{"year":2018.57,"cfs":0.078},{"year":2018.59,"cfs":0.034},{"year":2018.62,"cfs":0.078},{"year":2018.65,"cfs":0.38},{"year":2018.67,"cfs":3.2},{"year":2018.68,"cfs":15.5},{"year":2018.71,"cfs":78},{"year":2018.73,"cfs":181},{"year":2018.76,"cfs":524},{"year":2018.79,"cfs":800},{"year":2018.85,"cfs":990},{"year":2018.87,"cfs":424},{"year":2018.90,"cfs":130},{"year":2018.95,"cfs":201},
{"year":2019.01,"cfs":277},{"year":2019.07,"cfs":224},{"year":2019.12,"cfs":181},{"year":2019.18,"cfs":147},{"year":2019.24,"cfs":132},{"year":2019.29,"cfs":147},{"year":2019.34,"cfs":343},{"year":2019.38,"cfs":990},{"year":2019.41,"cfs":800},{"year":2019.43,"cfs":343},{"year":2019.49,"cfs":201},{"year":2019.55,"cfs":96},{"year":2019.57,"cfs":56},{"year":2019.63,"cfs":24},{"year":2019.69,"cfs":17.5},{"year":2019.74,"cfs":14.2},{"year":2019.77,"cfs":11.5},{"year":2019.81,"cfs":9.3},{"year":2019.86,"cfs":15.5},{"year":2019.91,"cfs":20},
{"year":2020.00,"cfs":22},{"year":2020.05,"cfs":27},{"year":2020.11,"cfs":37},{"year":2020.17,"cfs":51},{"year":2020.22,"cfs":70},{"year":2020.25,"cfs":119},{"year":2020.31,"cfs":119},{"year":2020.35,"cfs":78},{"year":2020.39,"cfs":96},{"year":2020.42,"cfs":181},{"year":2020.45,"cfs":277},{"year":2020.48,"cfs":224},{"year":2020.50,"cfs":78},{"year":2020.53,"cfs":41},{"year":2020.56,"cfs":27},{"year":2020.59,"cfs":9.3},{"year":2020.62,"cfs":4},{"year":2020.65,"cfs":1.9},{"year":2020.67,"cfs":0.9},{"year":2020.69,"cfs":0.53},{"year":2020.71,"cfs":9.3},{"year":2020.73,"cfs":63},{"year":2020.76,"cfs":74},{"year":2020.79,"cfs":33},{"year":2020.81,"cfs":9.3},{"year":2020.84,"cfs":5.5},{"year":2020.87,"cfs":3.6},{"year":2020.90,"cfs":4.9},{"year":2020.93,"cfs":7.5},{"year":2020.97,"cfs":11.5},
{"year":2021.01,"cfs":15.5},{"year":2021.07,"cfs":19.6},{"year":2021.12,"cfs":20},{"year":2021.18,"cfs":19.6},{"year":2021.24,"cfs":20},{"year":2021.29,"cfs":19.6},{"year":2021.32,"cfs":17.5},{"year":2021.35,"cfs":27},{"year":2021.37,"cfs":132},{"year":2021.39,"cfs":224},{"year":2021.43,"cfs":343},{"year":2021.49,"cfs":360},{"year":2021.52,"cfs":224},{"year":2021.57,"cfs":147},{"year":2021.63,"cfs":96},{"year":2021.69,"cfs":33},{"year":2021.74,"cfs":24},{"year":2021.80,"cfs":22},{"year":2021.88,"cfs":21},{"year":2021.97,"cfs":18.5},
{"year":2022.03,"cfs":21},{"year":2022.08,"cfs":19.6},{"year":2022.12,"cfs":15.5},{"year":2022.17,"cfs":11.5},{"year":2022.20,"cfs":8}
],
"well":[
{"year":2003.18,"depth":297},{"year":2003.26,"depth":301},{"year":2003.35,"depth":305},{"year":2003.46,"depth":312.5},{"year":2003.57,"depth":333},{"year":2003.64,"depth":342},{"year":2003.71,"depth":345.5},{"year":2003.82,"depth":343},{"year":2003.96,"depth":346.5},{"year":2004.08,"depth":346.5},{"year":2004.16,"depth":346},{"year":2004.31,"depth":345.5},{"year":2004.40,"depth":336.5},{"year":2004.50,"depth":328},{"year":2004.60,"depth":330.5},{"year":2004.66,"depth":337},{"year":2004.72,"depth":338},{"year":2004.78,"depth":334},{"year":2004.84,"depth":329},{"year":2004.89,"depth":298.5},
{"year":2005.55,"depth":327.5},{"year":2005.62,"depth":327.5},{"year":2005.73,"depth":342},{"year":2005.80,"depth":344},{"year":2005.90,"depth":346.5},{"year":2006.04,"depth":352},{"year":2006.16,"depth":356},{"year":2006.27,"depth":360},{"year":2006.36,"depth":369.5},{"year":2006.47,"depth":386.5},{"year":2006.55,"depth":403},{"year":2006.66,"depth":399.5},{"year":2006.78,"depth":396.5},{"year":2006.89,"depth":391.5},
{"year":2007.03,"depth":385},{"year":2007.14,"depth":381.5},{"year":2007.29,"depth":367},{"year":2007.42,"depth":348.5},{"year":2007.48,"depth":342},{"year":2007.55,"depth":330.5},{"year":2007.61,"depth":320.5},{"year":2007.73,"depth":312.5},{"year":2007.84,"depth":314},{"year":2007.95,"depth":317.5},{"year":2008.04,"depth":325.5},{"year":2008.17,"depth":344},{"year":2008.32,"depth":340.5},{"year":2008.39,"depth":347},{"year":2008.48,"depth":370},{"year":2008.62,"depth":385},{"year":2008.73,"depth":396.5},{"year":2008.90,"depth":396.5},
{"year":2009.07,"depth":396.5},{"year":2009.21,"depth":399.5},{"year":2009.32,"depth":406},{"year":2009.40,"depth":405},{"year":2009.47,"depth":412},{"year":2009.61,"depth":421},{"year":2009.72,"depth":422.5},{"year":2009.80,"depth":411},{"year":2009.89,"depth":395.5},{"year":2009.98,"depth":371.5},{"year":2010.07,"depth":360},{"year":2010.14,"depth":345.5},{"year":2010.21,"depth":330},{"year":2010.31,"depth":321.5},{"year":2010.42,"depth":324},{"year":2010.56,"depth":331.5},{"year":2010.66,"depth":338},{"year":2010.76,"depth":345.5},{"year":2010.92,"depth":340.5},
{"year":2011.04,"depth":340.5},{"year":2011.23,"depth":347},{"year":2011.32,"depth":362},{"year":2011.40,"depth":373.5},{"year":2011.46,"depth":383},{"year":2011.51,"depth":393},{"year":2011.58,"depth":398},{"year":2011.65,"depth":402.5},{"year":2011.74,"depth":406.5},{"year":2011.85,"depth":401.5},{"year":2011.99,"depth":396.5},{"year":2012.08,"depth":391},{"year":2012.16,"depth":386.5},{"year":2012.27,"depth":376.5},{"year":2012.41,"depth":368.5},{"year":2012.55,"depth":373.5},{"year":2012.61,"depth":381.5},{"year":2012.75,"depth":390},{"year":2012.86,"depth":390},{"year":2012.97,"depth":389},
{"year":2013.11,"depth":381.5},{"year":2013.25,"depth":386.5},{"year":2013.36,"depth":394.5},{"year":2013.48,"depth":401.5},{"year":2013.53,"depth":416},{"year":2013.62,"depth":421},{"year":2013.76,"depth":413},{"year":2013.90,"depth":398},{"year":2013.95,"depth":390},{"year":2014.04,"depth":375},{"year":2014.15,"depth":367},{"year":2014.26,"depth":367},{"year":2014.40,"depth":370},{"year":2014.54,"depth":376.5},{"year":2014.65,"depth":385},{"year":2014.76,"depth":390},{"year":2014.88,"depth":385},
{"year":2015.02,"depth":375},{"year":2015.13,"depth":363.5},{"year":2015.24,"depth":357},{"year":2015.38,"depth":344},{"year":2015.52,"depth":325.5},{"year":2015.60,"depth":335.5},{"year":2015.72,"depth":347},{"year":2015.79,"depth":357},{"year":2015.82,"depth":337},{"year":2015.90,"depth":334},{"year":2016.02,"depth":330.5},{"year":2016.13,"depth":325},{"year":2016.21,"depth":319},{"year":2016.35,"depth":312.5},{"year":2016.48,"depth":302.5},{"year":2016.52,"depth":314},{"year":2016.63,"depth":327.5},{"year":2016.72,"depth":317.5},{"year":2016.83,"depth":319},{"year":2016.94,"depth":316},
{"year":2017.05,"depth":307.5},{"year":2017.19,"depth":302.5},{"year":2017.28,"depth":302.5},{"year":2017.45,"depth":311},{"year":2017.53,"depth":330.5},{"year":2017.61,"depth":337},{"year":2017.70,"depth":339},{"year":2017.78,"depth":340.5},{"year":2017.87,"depth":340.5},{"year":2017.95,"depth":340.5},{"year":2018.04,"depth":344},{"year":2018.12,"depth":348.5},{"year":2018.23,"depth":355.5},{"year":2018.37,"depth":365},{"year":2018.45,"depth":381.5},{"year":2018.54,"depth":398},{"year":2018.59,"depth":414},{"year":2018.71,"depth":408},{"year":2018.79,"depth":380},{"year":2018.87,"depth":350},{"year":2018.95,"depth":337},
{"year":2019.04,"depth":327.5},{"year":2019.12,"depth":316},{"year":2019.24,"depth":311},{"year":2019.35,"depth":311},{"year":2019.46,"depth":303.5},{"year":2019.52,"depth":311},{"year":2019.63,"depth":335.5},{"year":2019.72,"depth":352},{"year":2019.86,"depth":358.5},{"year":2019.97,"depth":365},{"year":2020.08,"depth":370},{"year":2020.19,"depth":376.5},
{"year":2020.53,"depth":436},{"year":2020.62,"depth":441},{"year":2020.70,"depth":432.5},{"year":2020.79,"depth":426},{"year":2020.90,"depth":418},{"year":2021.01,"depth":413},{"year":2021.15,"depth":411},{"year":2021.26,"depth":413},{"year":2021.38,"depth":418},{"year":2021.49,"depth":404.5},{"year":2021.55,"depth":395.5},{"year":2021.66,"depth":403},{"year":2021.77,"depth":413},{"year":2021.91,"depth":408},{"year":2022.05,"depth":406.5},{"year":2022.17,"depth":404.5},{"year":2022.25,"depth":411}
]
},
"encoding":{
"x":{"field":"year","type":"quantitative","scale":{"domain":[2003,2022.25],"nice":false,"zero":false},
"axis":{"title":null,"values":[2003,2004,2005,2006,2007,2008,2009,2010,2011,2012,2013,2014,2015,2016,2017,2018,2019,2020,2021,2022],"labelExpr":"'1/1/' + datum.value","labelAngle":-45,"labelAlign":"right","labelBaseline":"middle","labelPadding":4,"labelFontSize":17,"grid":false,"ticks":true,"tickSize":6,"tickColor":"#D9D9D9","domainColor":"#D9D9D9","labelOverlap":false,"labelBound":false,"labelFlush":false}}
},
"layer":[
{"layer":[
{"data":{"name":"well"},"mark":{"type":"point","filled":true,"size":340,"opacity":1},
"encoding":{
"y":{"field":"depth","type":"quantitative","scale":{"domain":[0,500],"reverse":true,"nice":false,"zero":false},
"axis":{"title":null,"orient":"left","values":[0,50,100,150,200,250,300,350,400,450,500],"format":".1f","grid":true,"gridColor":"#D9D9D9","domain":true,"domainColor":"#404040","ticks":false,"labelPadding":14}},
"fill":{"datum":"depth_to_water_in_well_ft","type":"nominal","scale":{"domain":["depth_to_water_in_well_ft"],"range":["#ED7D31"]},
"legend":{"title":null,"orient":"none","legendX":394.5,"legendY":806.5,"symbolType":"circle","symbolSize":170,"symbolStrokeWidth":0,"symbolOpacity":1,"labelExpr":"''","labelFontSize":1}}
}},
{"data":{"values":[{}]},"mark":{"type":"rule","color":"#000000","strokeWidth":1},
"encoding":{"x":{"datum":2003,"type":"quantitative"},"x2":{"datum":2022.25},"y":{"datum":0,"type":"quantitative"}}}
]},
{"layer":[
{"data":{"name":"flow"},"mark":{"type":"line","clip":true},
"encoding":{
"y":{"field":"cfs","type":"quantitative","scale":{"type":"log","domain":[0.01,100000],"nice":false},
"axis":{"title":null,"orient":"right","values":[0.01,0.1,1,10,100,1000,10000,100000],"format":",.0f","grid":false,"domain":false,"ticks":false,"labelAlign":"right","labelBaseline":"middle","labelPadding":-15,"labelBound":false,"labelOverlap":false,"labelFlush":false}},
"stroke":{"datum":"Avg_daily_river_flow_cfs","type":"nominal","scale":{"domain":["Avg_daily_river_flow_cfs","depth_to_water_in_well_ft","30 per. Mov. Avg. (Avg_daily_river_flow_cfs)"],"range":["#A9D18E","#2E75B6","#FF0000"]},
"legend":{"title":null,"orient":"none","legendX":114,"legendY":790,"direction":"horizontal","symbolType":"stroke","symbolSize":2025,"symbolOpacity":1,"columnPadding":39,"labelOffset":6,"labelFontSize":15.3,"labelLimit":400}},
"strokeDash":{"datum":"Avg_daily_river_flow_cfs","type":"nominal","scale":{"domain":["Avg_daily_river_flow_cfs","depth_to_water_in_well_ft","30 per. Mov. Avg. (Avg_daily_river_flow_cfs)"],"range":[[1,0],[16.5,12,16.5],[6,7]]}},
"strokeWidth":{"datum":"Avg_daily_river_flow_cfs","type":"nominal","scale":{"type":"ordinal","domain":["Avg_daily_river_flow_cfs","depth_to_water_in_well_ft","30 per. Mov. Avg. (Avg_daily_river_flow_cfs)"],"range":[1.2,4,4.5]}}
}},
{"data":{"name":"ma"},"mark":{"type":"line","strokeCap":"round","strokeJoin":"round","clip":true},
"encoding":{
"y":{"field":"cfs","type":"quantitative"},
"stroke":{"datum":"30 per. Mov. Avg. (Avg_daily_river_flow_cfs)","type":"nominal","scale":{"domain":["Avg_daily_river_flow_cfs","depth_to_water_in_well_ft","30 per. Mov. Avg. (Avg_daily_river_flow_cfs)"],"range":["#A9D18E","#2E75B6","#FF0000"]}},
"strokeDash":{"datum":"30 per. Mov. Avg. (Avg_daily_river_flow_cfs)","type":"nominal","scale":{"domain":["Avg_daily_river_flow_cfs","depth_to_water_in_well_ft","30 per. Mov. Avg. (Avg_daily_river_flow_cfs)"],"range":[[1,0],[16.5,12,16.5],[6,7]]}},
"strokeWidth":{"datum":"30 per. Mov. Avg. (Avg_daily_river_flow_cfs)","type":"nominal","scale":{"type":"ordinal","domain":["Avg_daily_river_flow_cfs","depth_to_water_in_well_ft","30 per. Mov. Avg. (Avg_daily_river_flow_cfs)"],"range":[1.2,4,4.5]}}
}}
]}
],
"resolve":{"scale":{"y":"independent"}}
}
